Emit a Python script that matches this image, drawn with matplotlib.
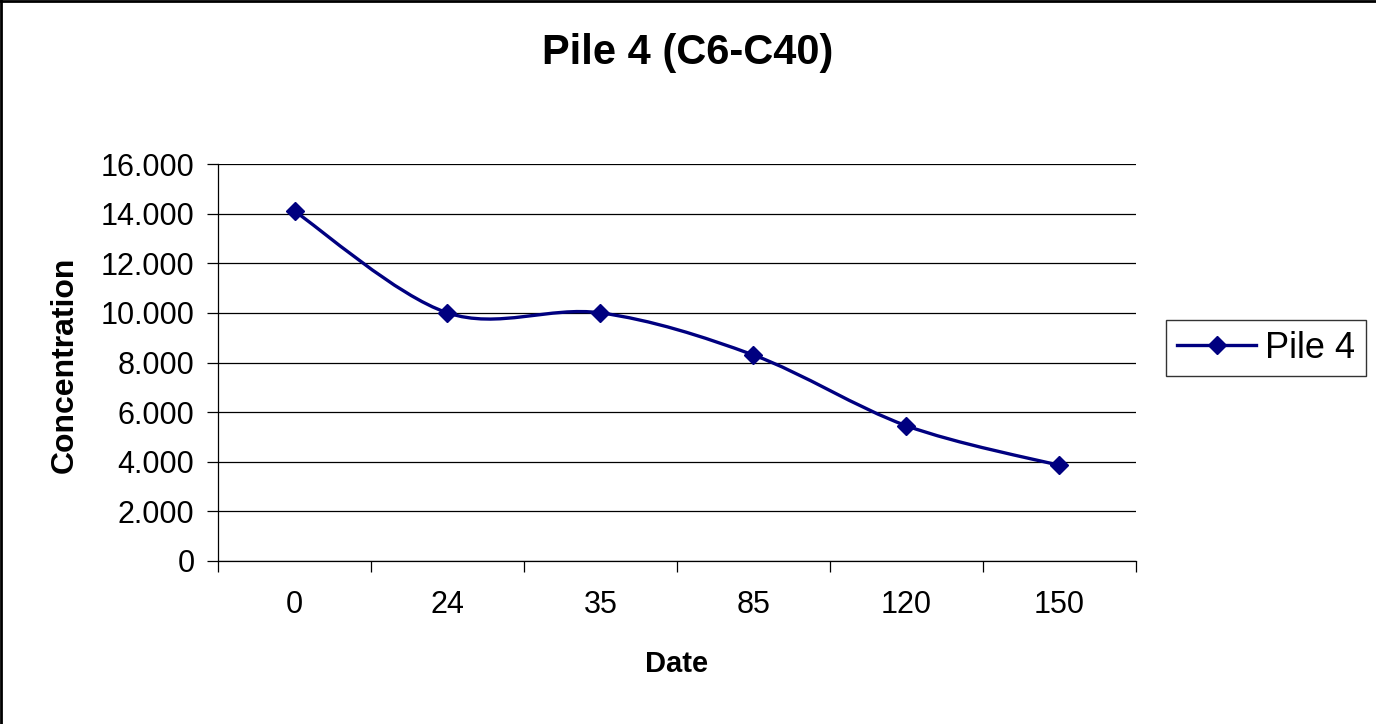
import matplotlib
matplotlib.use("Agg")
import matplotlib.pyplot as plt
import numpy as np
from matplotlib.path import Path
from matplotlib.patches import PathPatch
from matplotlib.lines import Line2D
from matplotlib.ticker import FuncFormatter, FixedLocator

plt.rcParams["font.family"] = ["Liberation Sans", "DejaVu Sans"]

# data
dates = ["0", "24", "35", "85", "120", "150"]
concentration = [14100, 10000, 10000, 8300, 5450, 3850]
series_name = "Pile 4"

NAVY = "#000080"

fig = plt.figure(figsize=(13.76, 7.24), dpi=100)
ax = fig.add_axes([218 / 1376, 1 - 561 / 724, 918 / 1376, 397 / 724])

x = np.arange(len(dates))
y = np.array(concentration, dtype=float)

# smoothed line (Excel-like Bezier smoothing through the points)
pts = np.column_stack([x, y])
ext = np.vstack([pts[0], pts, pts[-1]])
verts = [tuple(pts[0])]
codes = [Path.MOVETO]
for i in range(len(pts) - 1):
    p_prev, p0, p1, p_next = ext[i], ext[i + 1], ext[i + 2], ext[i + 3]
    c1 = p0 + (p1 - p_prev) / 6.0
    c2 = p1 - (p_next - p0) / 6.0
    verts += [tuple(c1), tuple(c2), tuple(p1)]
    codes += [Path.CURVE4] * 3
curve = PathPatch(Path(verts, codes), facecolor="none", edgecolor=NAVY,
                  lw=2.4, transform=ax.transData, zorder=3)
ax.add_patch(curve)
ax.plot(x, y, ls="none", marker="D", ms=9.5, color=NAVY, zorder=4)

ax.set_xlim(-0.5, len(dates) - 0.5)
ax.set_ylim(0, 16000)
ax.set_yticks(np.arange(0, 16001, 2000))
ax.yaxis.set_major_formatter(FuncFormatter(lambda v, p: f"{int(v):,}".replace(",", ".")))
ax.yaxis.grid(True, color="black", lw=0.9)
ax.set_axisbelow(True)

ax.xaxis.set_major_locator(FixedLocator(np.arange(-0.5, len(dates), 1.0)))
ax.xaxis.set_major_formatter(FuncFormatter(lambda v, p: ""))
ax.xaxis.set_minor_locator(FixedLocator(x))
ax.set_xticklabels(dates, minor=True)
ax.tick_params(axis="x", which="minor", length=0, pad=21, labelsize=22)
ax.tick_params(axis="x", which="major", length=8, width=0.9, direction="out")
ax.tick_params(axis="y", length=8, width=0.9, direction="out", pad=9, labelsize=22)

for s in ["top", "right"]:
    ax.spines[s].set_visible(False)
for s in ["left", "bottom"]:
    ax.spines[s].set_linewidth(0.9)
    ax.spines[s].set_color("black")

ax.set_xlabel("Date", fontsize=21, fontweight="bold")
ax.xaxis.set_label_coords(0.5, -0.259)
ax.xaxis.label.set_va("center")
ax.set_ylabel("Concentration", fontsize=23, fontweight="bold")
ax.yaxis.set_label_coords(-0.1667, 0.494)
ax.yaxis.label.set_va("center")

fig.text(688 / 1376, 1 - 53 / 724, "Pile 4 (C6-C40)", ha="center", va="center",
         fontsize=30, fontweight="bold")

handle = Line2D([], [], color=NAVY, lw=2.4, marker="D", ms=9.5)
leg = fig.legend([handle], [series_name], loc="center left",
                 bbox_to_anchor=(1166 / 1376, 1 - 348 / 724), fontsize=26,
                 frameon=True, fancybox=False, borderaxespad=0, borderpad=0.3,
                 handlelength=2.2, handletextpad=0.25)
leg.get_frame().set_edgecolor("black")
leg.get_frame().set_linewidth(1.0)

# chart area border (left and top visible in the reference)
fig.add_artist(Line2D([1 / 1376, 1 / 1376], [0, 1], color="black", lw=2,
                      transform=fig.transFigure))
fig.add_artist(Line2D([0, 1], [1 - 1 / 724, 1 - 1 / 724], color="black", lw=2,
                      transform=fig.transFigure))

fig.savefig("out.png", dpi=100)
